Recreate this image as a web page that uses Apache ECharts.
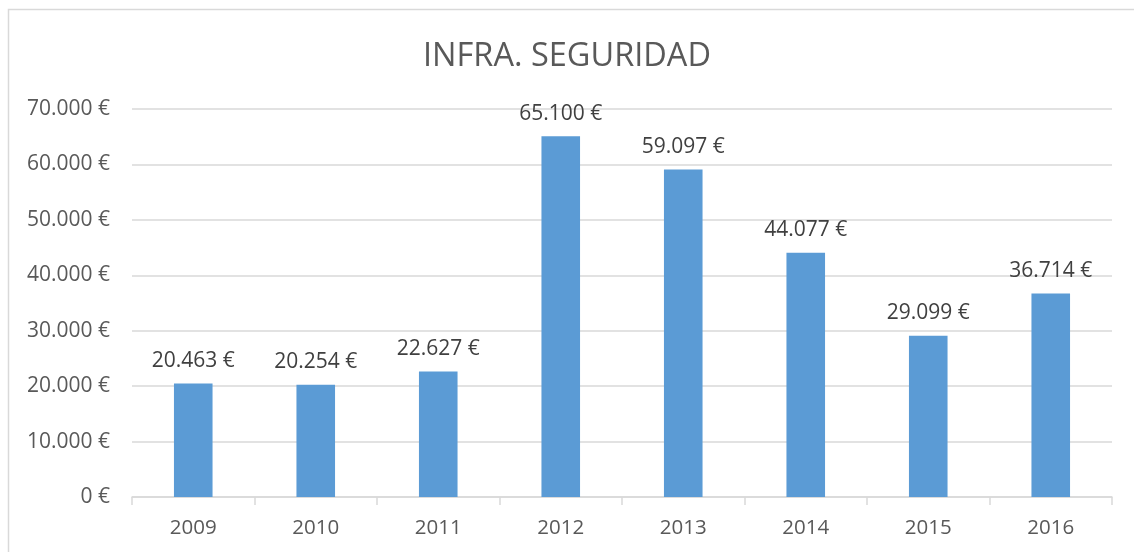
<!DOCTYPE html>
<html><head><meta charset="utf-8">
<script src="https://cdn.jsdelivr.net/npm/echarts@6/dist/echarts.min.js"></script>
<style>html,body{margin:0;padding:0;background:#fff}#c{width:1134px;height:552px}</style>
</head><body><div id="c"></div>
<script>
const title = 'INFRA. SEGURIDAD';
const categories = ['2009','2010','2011','2012','2013','2014','2015','2016'];
const values = [20463, 20254, 22627, 65100, 59097, 44077, 29099, 36714];
const yTicks = {min: 0, max: 70000, interval: 10000};

function fmt(v){
  return String(Math.round(v)).replace(/\B(?=(\d{3})+(?!\d))/g, '.') + ' €';
}
const FONT = '"Open Sans", "Noto Sans", sans-serif';
const chart = echarts.init(document.getElementById('c'), null, {renderer: 'canvas'});
chart.setOption({
  animation: false,
  backgroundColor: '#fff',
  graphic: [{
    type: 'rect', silent: true, z: -1,
    shape: {x: 8.5, y: 9.5, width: 1200, height: 600},
    style: {fill: 'none', stroke: '#d9d9d9', lineWidth: 1.5}
  }],
  title: {
    text: title, left: 'center', top: 35,
    textStyle: {fontFamily: FONT, fontSize: 32.5, fontWeight: 'normal', color: '#595959'}
  },
  grid: {left: 132, right: 22, top: 109, bottom: 55, containLabel: false},
  xAxis: {
    type: 'category', data: categories,
    axisLine: {lineStyle: {color: '#d9d9d9', width: 1.5}},
    axisTick: {show: true, length: 8, lineStyle: {color: '#d9d9d9', width: 1.5}},
    axisLabel: {fontFamily: FONT, fontSize: 20.5, color: '#595959', margin: 21}
  },
  yAxis: {
    type: 'value', min: yTicks.min, max: yTicks.max, interval: yTicks.interval,
    axisLine: {show: false}, axisTick: {show: false},
    splitLine: {lineStyle: {color: '#d9d9d9', width: 1.5}},
    axisLabel: {fontFamily: FONT, fontSize: 21, color: '#595959', margin: 22, formatter: fmt}
  },
  series: [{
    type: 'bar', data: values, barWidth: '31.5%',
    itemStyle: {color: '#5b9bd5'},
    label: {show: true, position: 'top', distance: 12, formatter: p => fmt(p.value),
      fontFamily: FONT, fontSize: 21, color: '#404040'}
  }]
});
</script></body></html>
